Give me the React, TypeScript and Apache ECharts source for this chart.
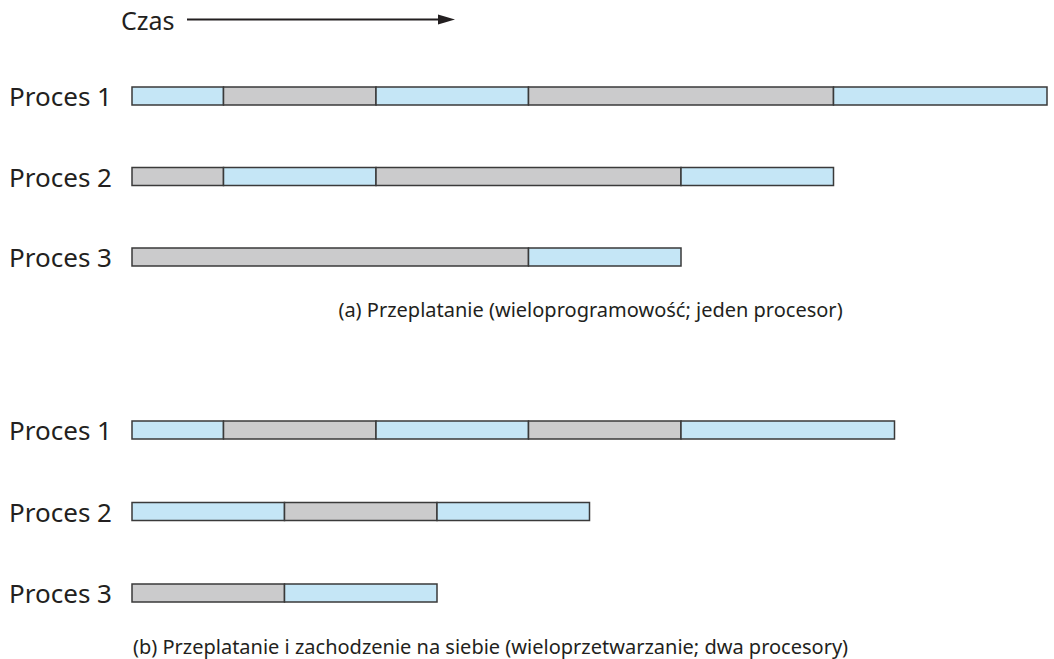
import React, { useEffect, useRef } from "react";
import * as echarts from "echarts";

const processes = ["Proces 1", "Proces 2", "Proces 3"];
// [process index, start, end, state] — state 1 = running (blue), 0 = blocked/waiting (grey)
const segmentsA: [number, number, number, number][] = [
  [0, 0, 3, 1], [0, 3, 8, 0], [0, 8, 13, 1], [0, 13, 23, 0], [0, 23, 30, 1],
  [1, 0, 3, 0], [1, 3, 8, 1], [1, 8, 18, 0], [1, 18, 23, 1],
  [2, 0, 13, 0], [2, 13, 18, 1],
];
const segmentsB: [number, number, number, number][] = [
  [0, 0, 3, 1], [0, 3, 8, 0], [0, 8, 13, 1], [0, 13, 18, 0], [0, 18, 25, 1],
  [1, 0, 5, 1], [1, 5, 10, 0], [1, 10, 15, 1],
  [2, 0, 5, 0], [2, 5, 10, 1],
];
const captionA = "(a) Przeplatanie (wieloprogramowość; jeden procesor)";
const captionB = "(b) Przeplatanie i zachodzenie na siebie (wieloprzetwarzanie; dwa procesory)";
const timeLabel = "Czas";
const timeMax = 30;

const FONT = "'Noto Sans', 'Open Sans', sans-serif";
const TEXT = "#231f20";

function renderItem(params: any, api: any) {
  const row = api.value(0);
  const start = api.coord([api.value(1), row]);
  const end = api.coord([api.value(2), row]);
  const h = 18;
  return {
    type: "rect",
    shape: { x: start[0], y: start[1] - h / 2, width: end[0] - start[0], height: h },
    style: {
      fill: api.value(3) === 1 ? "#c5e6f6" : "#cbcbcc",
      stroke: "#3a3a3a",
      lineWidth: 1.5,
    },
  };
}

export default function App() {
  const ref = useRef<HTMLDivElement>(null);
  useEffect(() => {
    document.body.style.margin = "0";
    const chart = echarts.init(ref.current!, null, { renderer: "svg" });
    const mkX = (i: number) => ({
      type: "value" as const,
      gridIndex: i,
      min: 0,
      max: timeMax,
      show: false,
    });
    const mkY = (i: number) => ({
      type: "category" as const,
      gridIndex: i,
      data: processes,
      inverse: true,
      axisLine: { show: false },
      axisTick: { show: false },
      splitLine: { show: false },
      axisLabel: { margin: 20, fontSize: 26, fontFamily: FONT, color: TEXT },
    });
    chart.setOption({
      animation: false,
      grid: [
        { left: 132, width: 915, top: 55.75, height: 241.5 },
        { left: 132, width: 915, top: 389.25, height: 244.5 },
      ],
      xAxis: [mkX(0), mkX(1)],
      yAxis: [mkY(0), mkY(1)],
      series: [
        { type: "custom", xAxisIndex: 0, yAxisIndex: 0, renderItem, data: segmentsA, encode: { x: [1, 2], y: 0 } },
        { type: "custom", xAxisIndex: 1, yAxisIndex: 1, renderItem, data: segmentsB, encode: { x: [1, 2], y: 0 } },
      ],
      graphic: [
        { type: "text", x: 121, y: 20, style: { text: timeLabel, fontSize: 25, fontFamily: FONT, fill: TEXT, verticalAlign: "middle" } },
        { type: "line", shape: { x1: 187, y1: 19.5, x2: 445, y2: 19.5 }, style: { stroke: "#231f20", lineWidth: 2 } },
        { type: "polygon", shape: { points: [[455, 19.5], [438, 14.5], [438, 24.5]] }, style: { fill: "#231f20" } },
        { type: "text", x: 590.5, y: 309, style: { text: captionA, fontSize: 20, fontFamily: FONT, fill: TEXT, align: "center", verticalAlign: "middle" } },
        { type: "text", x: 490.5, y: 646, style: { text: captionB, fontSize: 20, fontFamily: FONT, fill: TEXT, align: "center", verticalAlign: "middle" } },
      ],
    });
    return () => chart.dispose();
  }, []);
  return <div ref={ref} style={{ width: 1054, height: 659 }} />;
}
